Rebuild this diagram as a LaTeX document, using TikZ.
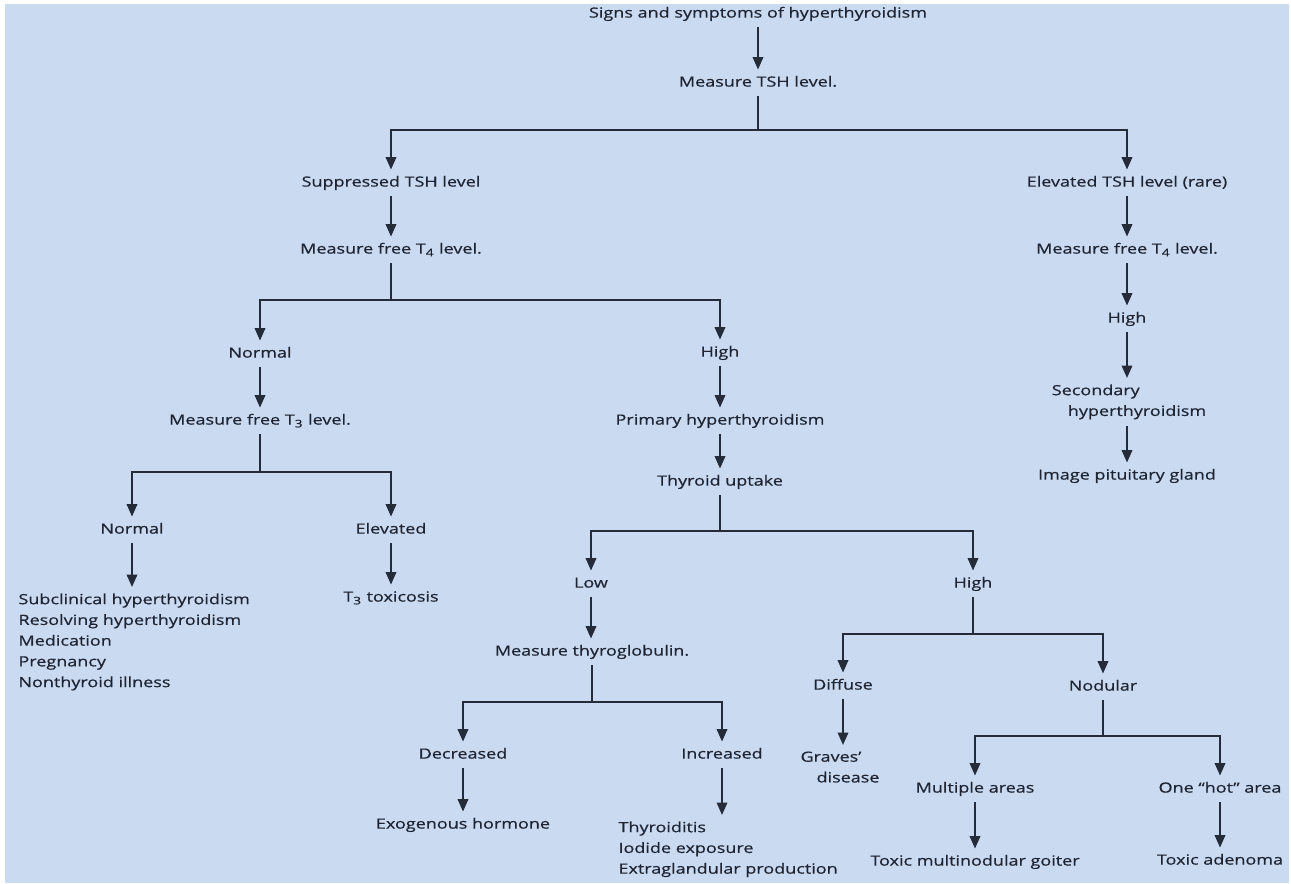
\documentclass[tikz,border=0pt]{standalone}
\usepackage{fontspec}
\setmainfont{Open Sans}[FakeStretch=1.28, FakeBold=0.5]
\usetikzlibrary{arrows.meta}
\definecolor{bgblue}{RGB}{201,218,241}
\definecolor{inkline}{RGB}{36,43,57}
\definecolor{inktext}{RGB}{30,36,50}
\begin{document}
\begin{tikzpicture}[x=0.02cm, y=-0.02cm,
  every node/.style={text=inktext, font=\fontsize{8pt}{11.8pt}\selectfont},
  lbl/.style={inner sep=0pt, outer sep=0.13cm, text height=6pt, text depth=1.9pt},
  blk/.style={inner sep=0pt, outer sep=0.13cm, align=left},
  line/.style={draw=inkline, line width=1.1pt},
  arr/.style={line, -{Triangle[length=0.25cm, width=0.21cm]}}]
\useasboundingbox (0,0) rectangle (1291,883);
\fill[white] (0,0) rectangle (1291,883); % page
\fill[bgblue] (5,4) rectangle (1289,883); % blue panel

% top
\node[lbl] (signs) at (758,14) {Signs and symptoms of hyperthyroidism};
\node[lbl] (tsh) at (758,83) {Measure TSH level.};
\coordinate (j1) at (758,130);
\node[lbl] (supp) at (391,183) {Suppressed TSH level};
\node[lbl] (elev) at (1127,183) {Elevated TSH level (rare)};
\draw[arr] (signs) -- (tsh);
\draw[line] (tsh) -- (j1);
\draw[arr] (j1) -| (supp);
\draw[arr] (j1) -| (elev);

% suppressed TSH
\node[lbl] (ft4a) at (391,250) {Measure free T\textsubscript{4} level.};
\coordinate (j2) at (391,300);
\node[lbl] (norm1) at (260,354) {Normal};
\node[lbl] (high1) at (720,353) {High};
\draw[arr] (supp) -- (ft4a);
\draw[line] (ft4a) -- (j2);
\draw[arr] (j2) -| (norm1);
\draw[arr] (j2) -| (high1);

% normal T4
\node[lbl] (ft3) at (260,421) {Measure free T\textsubscript{3} level.};
\coordinate (j3) at (260,472);
\node[lbl] (norm2) at (132,530) {Normal};
\node[lbl] (elv) at (391,530) {Elevated};
\node[blk, anchor=north west] (subc) at (12,587) {Subclinical hyperthyroidism\\Resolving hyperthyroidism\\Medication\\Pregnancy\\Nonthyroid illness};
\node[lbl] (t3tox) at (391,598) {T\textsubscript{3} toxicosis};
\draw[arr] (norm1) -- (ft3);
\draw[line] (ft3) -- (j3);
\draw[arr] (j3) -| (norm2);
\draw[arr] (j3) -| (elv);
\draw[arr] (norm2) -- (norm2 |- subc.north);
\draw[arr] (elv) -- (t3tox);

% high T4
\node[lbl] (prim) at (720,421) {Primary hyperthyroidism};
\node[lbl] (upt) at (720,482) {Thyroid uptake};
\coordinate (j4) at (720,531);
\node[lbl] (low) at (591,584) {Low};
\node[lbl] (high2) at (973,584) {High};
\draw[arr] (high1) -- (prim);
\draw[arr] (prim) -- (upt);
\draw[line] (upt) -- (j4);
\draw[arr] (j4) -| (low);
\draw[arr] (j4) -| (high2);

% low uptake
\node[lbl] (tg) at (592,652) {Measure thyroglobulin.};
\coordinate (j5) at (592,702);
\node[lbl] (decr) at (463,755) {Decreased};
\node[lbl] (incr) at (722,755) {Increased};
\node[lbl] (exo) at (463,825) {Exogenous hormone};
\node[blk, anchor=north west] (thy) at (612,815) {Thyroiditis\\Iodide exposure\\Extraglandular production};
\draw[arr] (low) -- (low |- tg.north);
\draw[line] (tg) -- (j5);
\draw[arr] (j5) -| (decr);
\draw[arr] (j5) -| (incr);
\draw[arr] (decr) -- (exo);
\draw[arr] (incr) -- (incr |- thy.north);

% high uptake
\coordinate (j6) at (973,634);
\node[lbl] (diff) at (843,686) {Diffuse};
\node[lbl] (nod) at (1103,687) {Nodular};
\node[blk, anchor=north] (graves) at (840,745) {Graves'\\\hspace*{0.32cm}disease};
\coordinate (j7) at (1103,736);
\node[lbl] (mult) at (975,789) {Multiple areas};
\node[lbl] (hot) at (1220,789) {One “hot” area};
\node[lbl] (tmng) at (975,862) {Toxic multinodular goiter};
\node[lbl] (tadn) at (1220,861) {Toxic adenoma};
\draw[line] (high2) -- (j6);
\draw[arr] (j6) -| (diff);
\draw[arr] (j6) -| (nod);
\draw[arr] (diff) -- (diff |- graves.north);
\draw[line] (nod) -- (j7);
\draw[arr] (j7) -| (mult);
\draw[arr] (j7) -| (hot);
\draw[arr] (mult) -- (tmng);
\draw[arr] (hot) -- (tadn);

% elevated TSH
\node[lbl] (ft4b) at (1127,250) {Measure free T\textsubscript{4} level.};
\node[lbl] (high3) at (1127,319) {High};
\node[blk, anchor=north] (sec) at (1129,378) {Secondary\\\hspace*{0.32cm}hyperthyroidism};
\node[lbl] (img) at (1127,476) {Image pituitary gland};
\draw[arr] (elev) -- (ft4b);
\draw[arr] (ft4b) -- (high3);
\draw[arr] (high3) -- (high3 |- sec.north);
\draw[arr] (img |- sec.south) -- (img);
\end{tikzpicture}
\end{document}
